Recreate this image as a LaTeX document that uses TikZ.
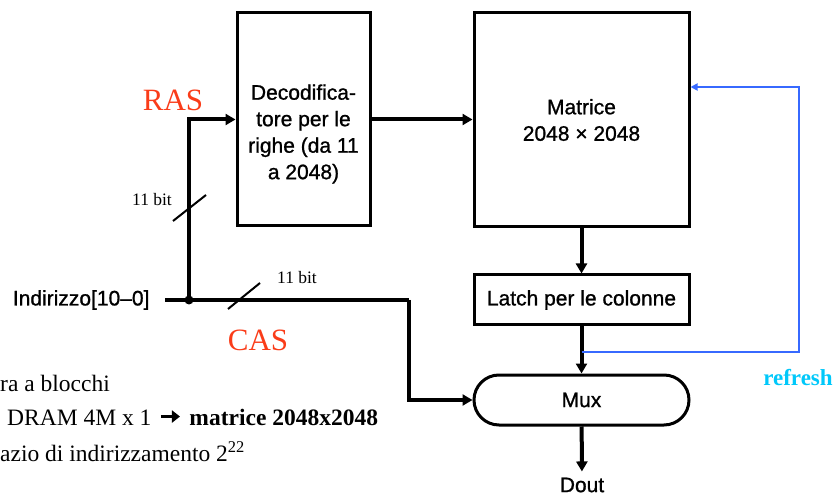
\documentclass[tikz,border=0pt]{standalone}
\usepackage{fontspec}
\setmainfont{Liberation Serif}
\setsansfont[FakeBold=1]{Liberation Sans}
\usetikzlibrary{arrows.meta}
\definecolor{rasred}{RGB}{250,60,25}
\definecolor{refblue}{RGB}{55,105,255}
\definecolor{refcyan}{RGB}{0,200,250}
\newcommand\blocktxt{\sffamily\fontsize{21}{26.5}\selectfont}
\newcommand\boldarrow{\tikz[baseline=-8.5pt]\draw[line width=3pt,-{Triangle[length=8pt,width=12pt]}] (0pt,0pt) -- (19pt,0pt);}

\begin{document}
\begin{tikzpicture}[x=1pt,y=-1pt,
  blk/.style={draw,line width=3pt,inner sep=0pt,font=\blocktxt,align=center},
  bus/.style={line width=4pt},
  arr/.style={bus,-{Triangle[length=10pt,width=11pt]}},
  slash/.style={line width=2pt},
  bitlbl/.style={font=\fontsize{17.5}{17.5}\selectfont},
  sig/.style={text=rasred,font=\fontsize{31}{31}\selectfont},
  note/.style={anchor=west,inner sep=0pt,font=\fontsize{23.5}{24}\selectfont},
  refl/.style={refblue,line width=2pt,-{Triangle[length=7pt,width=7pt]}}]
  \useasboundingbox (0,0) rectangle (836,497);
  % blocchi
  \node[blk, minimum width=133pt, minimum height=213pt] (dec) at (303.5,119.5) {};
  \node[font=\blocktxt, align=center] (dectxt) at (303.5,134) {Decodifica-\\tore per le\\righe (da 11\\a 2048)};
  \node[blk, minimum width=215pt, minimum height=214pt] (mat) at (581.5,120) {Matrice\\2048 × 2048};
  \node[blk, minimum width=215pt, minimum height=50pt] (latch) at (581.5,300) {Latch per le colonne};
  \node[blk, minimum width=215pt, minimum height=50pt, rounded corners=25pt] (mux) at (581.5,400) {Mux};
  \node[font=\blocktxt, inner sep=2pt] (dout) at (582,485) {Dout};
  \node[font=\blocktxt, anchor=east] (addr) at (153,300) {Indirizzo[10–0]};
  % indirizzo: RAS e CAS
  \coordinate (j) at (189,300); \coordinate (casx) at (409,300);
  \draw[bus] ([xshift=12pt]addr.east) -- (j) -- (casx);
  \draw[arr] (casx) |- (mux.west); \draw[arr] (j) |- (dec.west); \fill (j) circle (4.5pt);
  \draw[slash] (173,221) -- (206,195); \draw[slash] (228,309) -- (260,283);
  \node[bitlbl] (bitv) at (152,200) {11 bit}; \node[bitlbl] (bith) at (297,278) {11 bit};
  \node[sig] (ras) at (173,100) {RAS}; \node[sig] (cas) at (258,340) {CAS};
  % percorso dati
  \draw[arr] (dec.east) -- (dec.east -| mat.west);
  \draw[arr] (mat) -- (latch); \draw[arr] (latch) -- (mux); \draw[arr, shorten >=4pt] (mux) -- (dout);
  % refresh
  \coordinate (tap) at (581.5,352); \coordinate (rfx) at (799,352);
  \draw[refl] (tap) -- (rfx) |- ([yshift=33pt]mat.east);
  \node[text=refcyan, font=\bfseries\fontsize{23}{23}\selectfont] (refr) at (798,378) {refresh};
  % testo a sinistra
  \node[note] (n1) at (0,383) {ra a blocchi};
  \node[note] (n2) at (7,417) {DRAM 4M x 1\hspace{8pt}\boldarrow\hspace{8pt}\textbf{matrice 2048x2048}};
  \node[note] (n3) at (0,452) {azio di indirizzamento 2\textsuperscript{22}};
\end{tikzpicture}
\end{document}
